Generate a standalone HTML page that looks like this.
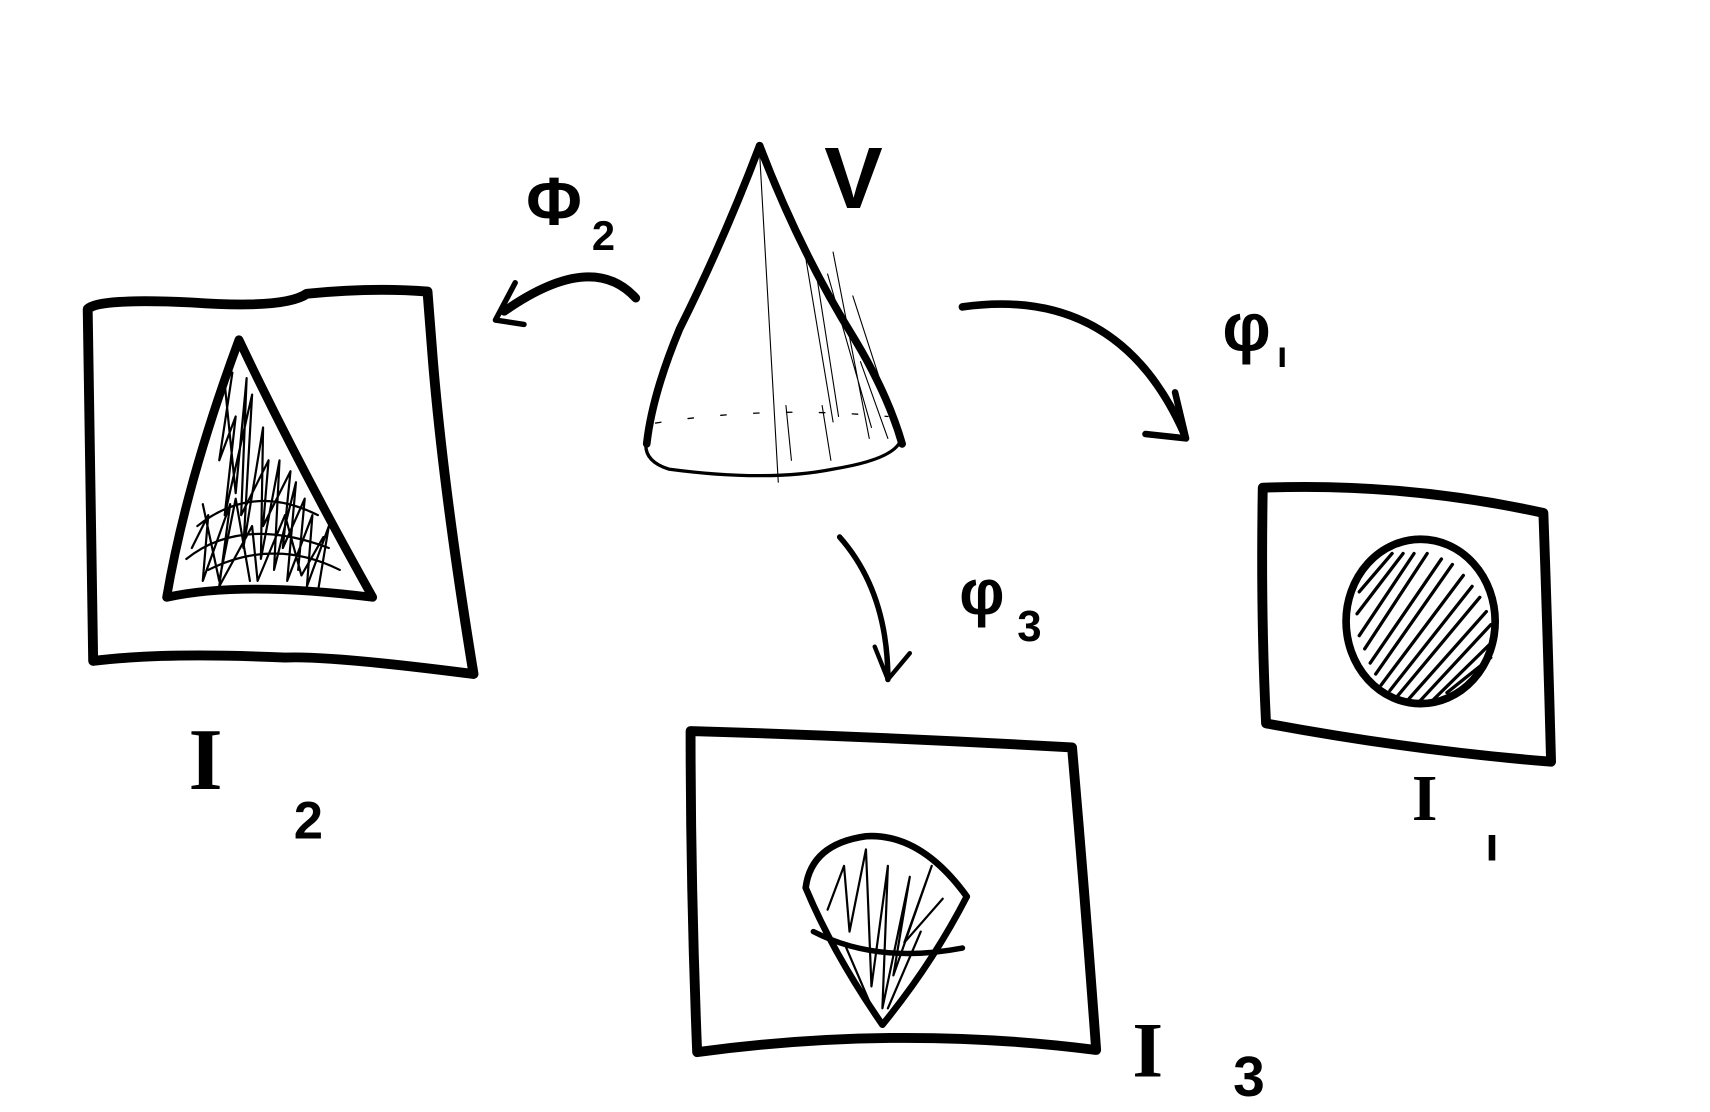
<!DOCTYPE html>
<html><head><meta charset="utf-8">
<style>
html,body{margin:0;padding:0;background:#fff;width:1710px;height:1112px;overflow:hidden}
svg{display:block}
text{font-family:"Liberation Sans","DejaVu Sans",sans-serif;fill:#000;font-weight:bold}
text.serif{font-family:"Liberation Serif","DejaVu Serif",serif}
</style></head>
<body>
<svg width="1710" height="1112" viewBox="0 0 1560 1014.6" preserveAspectRatio="none" fill="none" stroke="#000" stroke-linecap="round" stroke-linejoin="round">
<g>
  <path d="M80,282 Q90,272 175,276 Q260,282 280,268 Q340,262 390,266 L395,330 Q405,450 432,615 Q300,598 260,600 Q150,595 85,603 Q82,450 80,282" stroke-width="9"/>
  <path d="M218,310 Q170,440 152,545 Q220,530 340,545 Q270,420 218,310 Z" stroke-width="8"/>
  <path d="M212,340 L200,420 L215,380 L205,470 L230,360 L222,500 L240,390 L238,510 L255,420 L250,520 L270,440 L262,530 L285,470 L280,535 L300,480 L290,540 M175,500 L190,470 L185,530 L210,460 L200,535 L230,480 L235,530 L260,470 L275,525 L295,490 M180,480 Q230,440 290,470 M190,520 Q250,490 310,520 M205,350 L215,450 L225,345 L220,470 L245,420 L240,480 L265,430 L258,500 L278,455 L272,520 M170,510 Q220,470 300,500 M185,460 L200,530 L215,455 L228,530" stroke-width="2"/>
</g>
<g>
  <path d="M693,133 Q660,220 620,300 Q595,360 590,405" stroke-width="7"/>
  <path d="M693,133 Q730,230 780,310 Q810,360 823,405" stroke-width="7"/>
  <path d="M590,400 Q585,420 610,428 Q700,440 760,428 Q810,420 820,405" stroke-width="3"/>
  <path d="M598,386 Q700,370 810,380" stroke-width="1.2" stroke-dasharray="5,25"/>
  <path d="M693,140 L710,440 M760,230 L793,400 M778,270 L820,400 M755,250 L795,390 M744,245 L765,380 M785,330 L810,400 M717,370 L722,420 M750,370 L758,420 M735,235 L760,385" stroke-width="1"/>
</g>
<g>
  <path d="M580,272 Q540,228 460,284" stroke-width="8"/>
  <path d="M470,258 L452,292 L478,296" stroke-width="5"/>
</g>
<g>
  <path d="M878,280 Q1020,260 1080,395" stroke-width="7"/>
  <path d="M1072,358 L1082,400 L1045,396" stroke-width="6"/>
</g>
<g>
  <path d="M766,490 Q810,540 810,620" stroke-width="5"/>
  <path d="M798,590 L810,620 L830,596" stroke-width="4"/>
</g>
<g>
  <path d="M1152,445 Q1280,440 1408,468 Q1412,580 1415,695 Q1290,685 1155,660 Q1150,560 1152,445" stroke-width="9"/>
  <ellipse cx="1296" cy="567" rx="68" ry="75" stroke-width="7"/>
  <path d="M1240,540 L1270,505 M1238,560 L1280,505 M1240,580 L1290,505 M1245,592 L1302,505 M1250,605 L1315,510 M1255,615 L1325,515 M1260,625 L1335,525 M1268,630 L1343,535 M1275,635 L1350,545 M1285,638 L1356,558 M1295,640 L1360,570 M1308,638 L1362,585 M1320,632 L1360,600" stroke-width="3"/>
</g>
<g>
  <path d="M630,667 Q800,672 978,682 Q990,820 1000,958 Q820,935 636,960 Q630,810 630,667" stroke-width="9"/>
  <path d="M735,810 Q740,770 790,763 Q840,760 882,818 Q850,880 805,935 Q760,870 735,810 Z" stroke-width="6"/>
  <path d="M742,850 Q800,880 878,865" stroke-width="5"/>
  <path d="M755,830 L770,790 L775,850 L790,775 L795,900 L810,790 L805,920 L830,800 L815,890 L850,790 L825,860 L860,820 M770,860 L800,930 M840,850 L810,920" stroke-width="2"/>
</g>
<g stroke="none">
  <text x="480" y="205" font-size="62">Φ</text>
  <text x="540" y="228" font-size="38">2</text>
  <text x="752" y="190" font-size="80" font-weight="normal">V</text>
  <text x="1115" y="320" font-size="62">φ</text>
  <text x="1165" y="335" font-size="34">ı</text>
  <text x="875" y="560" font-size="58">φ</text>
  <text x="928" y="585" font-size="40">3</text>
  <text class="serif" x="172" y="720" font-size="80">I</text>
  <text x="268" y="765" font-size="48">2</text>
  <text class="serif" x="1288" y="748" font-size="60">I</text>
  <text x="1355" y="785" font-size="44">ı</text>
  <text class="serif" x="1033" y="982" font-size="72">I</text>
  <text x="1125" y="1000" font-size="52">3</text>
</g>
</svg>
</body></html>
